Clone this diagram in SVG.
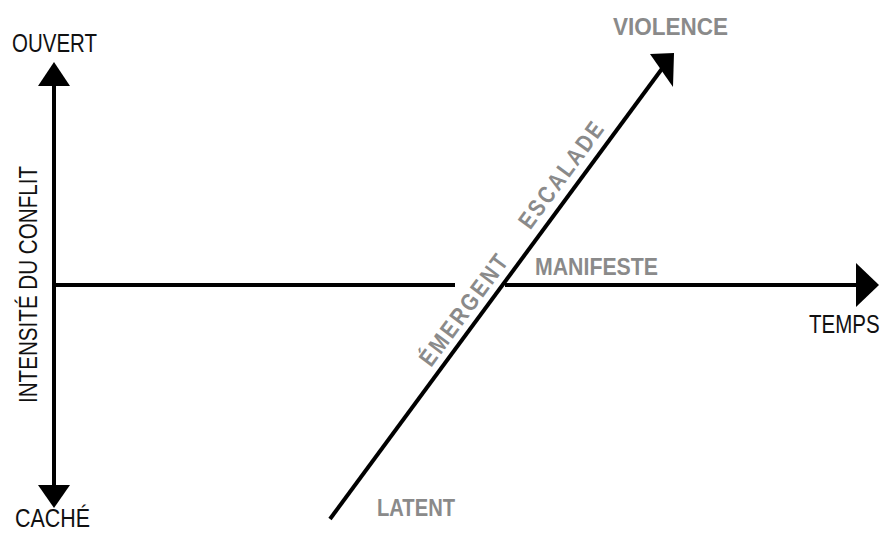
<svg xmlns="http://www.w3.org/2000/svg" width="884" height="533" viewBox="0 0 884 533">
<style>
.ax{stroke:#000;stroke-width:4;fill:none}
.head{fill:#000}
.lbl{font-family:"Liberation Sans",Arial,sans-serif;font-size:25px;fill:#111}
.stage{font-family:"Liberation Sans",Arial,sans-serif;font-weight:bold;font-size:24px;fill:#8a8a8a}
</style>
<rect width="884" height="533" fill="#fff"/>
<g id="connectors">
<line class="ax" x1="54" y1="84" x2="54" y2="487"/>
<polygon class="head" points="38,86 54,62 70,86"/>
<polygon class="head" points="38,485 54,508 70,485"/>
<line class="ax" x1="54" y1="285" x2="455" y2="285"/>
<line class="ax" x1="505" y1="285" x2="858" y2="285"/>
<polygon class="head" points="856,263 879,285 856,307"/>
<line class="ax" stroke-width="3.5" x1="330" y1="519" x2="664" y2="66"/>
<polygon class="head" points="650,54 674,53 673,87"/>
</g>
<g id="axis-y-labels">
<text class="lbl" x="12" y="52" textLength="85" lengthAdjust="spacingAndGlyphs">OUVERT</text>
<text class="lbl" font-size="23" x="15" y="527" textLength="75" lengthAdjust="spacingAndGlyphs">CACHÉ</text>
<text class="lbl" font-size="24" transform="translate(37,403) rotate(-90)" x="0" y="0" textLength="237" lengthAdjust="spacingAndGlyphs">INTENSITÉ DU CONFLIT</text>
</g>
<g id="axis-x-label">
<text class="lbl" transform="translate(809,333) scale(0.82,1)" x="0" y="0">TEMPS</text>
</g>
<g id="stage-violence">
<text class="stage" font-size="28" x="613" y="35" textLength="115" lengthAdjust="spacingAndGlyphs">VIOLENCE</text>
</g>
<g id="stage-manifeste">
<text class="stage" x="535" y="275" textLength="123" lengthAdjust="spacingAndGlyphs">MANIFESTE</text>
</g>
<g id="stage-latent">
<text class="stage" x="377" y="516" textLength="78" lengthAdjust="spacingAndGlyphs">LATENT</text>
</g>
<g id="stage-escalade">
<text class="stage" transform="translate(561.5,174) rotate(-53.6)" x="0" y="8.5" text-anchor="middle" letter-spacing="3" textLength="128" lengthAdjust="spacingAndGlyphs">ESCALADE</text>
</g>
<g id="stage-emergent">
<text class="stage" transform="translate(464,309) rotate(-53.6)" x="0" y="8.5" text-anchor="middle" letter-spacing="3" textLength="134" lengthAdjust="spacingAndGlyphs">ÉMERGENT</text>
</g>
</svg>
